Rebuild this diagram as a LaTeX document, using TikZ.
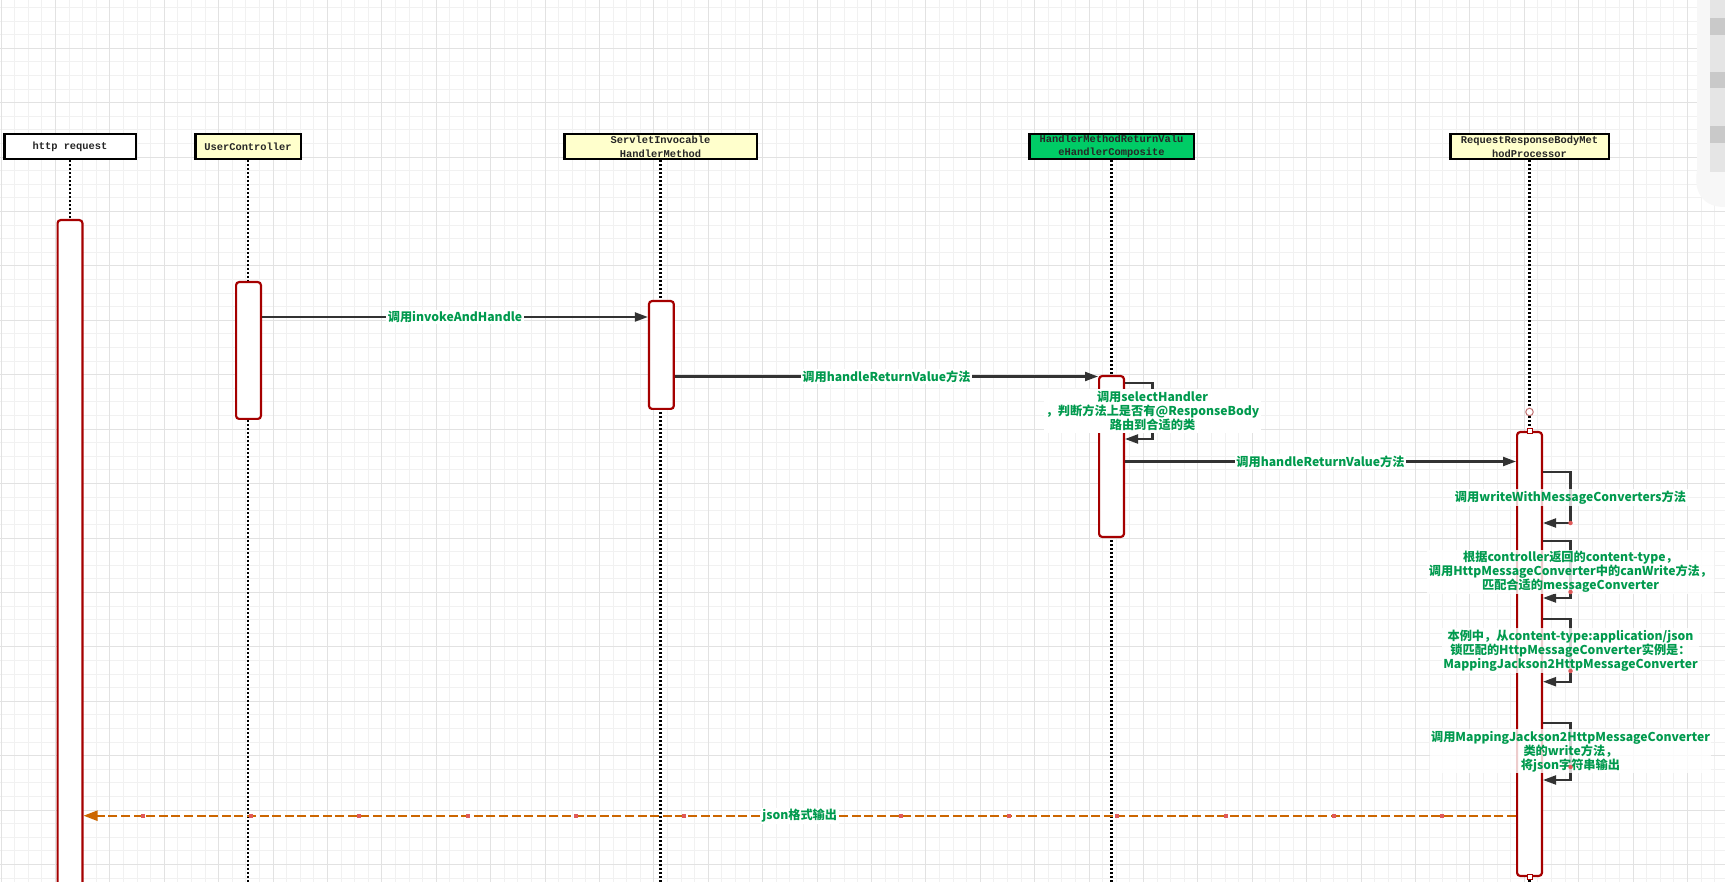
\documentclass[tikz,border=0pt]{standalone}
\usepackage{fontspec}
\usetikzlibrary{arrows.meta}
\newfontfamily\cjk{Noto Sans CJK SC}
\newfontfamily\monob{Liberation Mono}
\definecolor{minorgrid}{HTML}{F1F1F1}
\definecolor{majorgrid}{HTML}{E2E2E2}
\definecolor{headtext}{HTML}{262626}
\definecolor{headyellow}{HTML}{FFFFCC}
\definecolor{headgreen}{HTML}{00CC66}
\definecolor{actred}{HTML}{A50000}
\definecolor{msggray}{HTML}{333333}
\definecolor{retorange}{HTML}{CC6600}
\definecolor{lblgreen}{HTML}{009A4E}
\definecolor{dotred}{HTML}{E05A5A}
\definecolor{circred}{HTML}{C07070}
\begin{document}
\begin{tikzpicture}[x=1pt,y=-1pt,
  head/.style={draw=black, line width=2.5pt, minimum height=25pt, inner sep=1pt,
    font=\monob\bfseries\fontsize{10.4}{13.6}\selectfont, text=headtext, align=center},
  act/.style={draw=actred, line width=2.2pt, fill=white, rounded corners=3pt,
    minimum width=24.8pt, inner sep=0pt, anchor=north},
  life/.style={line width=2.2pt, dash pattern=on 2pt off 2pt, black},
  msg/.style={draw=msggray, line width=2.1pt, -{Triangle[length=13pt,width=9pt]}},
  retmsg/.style={draw=retorange, line width=2.2pt, dash pattern=on 9pt off 3.6pt,
    -{Triangle[length=14pt,width=10pt]}},
  lbl/.style={font=\cjk\bfseries\fontsize{12.2}{14}\selectfont, text=lblgreen,
    fill=white, inner sep=1.5pt, align=center},
  lblp/.style={lbl, fill opacity=0.8, text opacity=1},
  reddot/.style={circle, fill=dotred, inner sep=0pt, minimum size=4.5pt},
  tinysq/.style={draw=actred, fill=white, line width=1pt, minimum size=5pt, inner sep=0pt},
]
\useasboundingbox (0,0) rectangle (1725,882);
\clip (0,0) rectangle (1725,882);
\fill[white] (0,0) rectangle (1725,882);
% grid
\foreach \k in {0,...,127} {
  \pgfmathsetmacro\xx{1+13.6*\k}
  \draw[minorgrid, line width=1pt] (\xx,0) -- (\xx,882);
}
\foreach \j in {-59,...,5} {
  \pgfmathsetmacro\yy{810+13.6*\j}
  \draw[minorgrid, line width=1pt] (0,\yy) -- (1725,\yy);
}
\foreach \k in {0,...,31} {
  \pgfmathsetmacro\xx{1+54.4*\k}
  \draw[majorgrid, line width=1pt] (\xx,0) -- (\xx,882);
}
\foreach \j in {-14,...,1} {
  \pgfmathsetmacro\yy{810+54.4*\j}
  \draw[majorgrid, line width=1pt] (0,\yy) -- (1725,\yy);
}
% right edge artifact
\fill[white!97!black] (1697,0) -- (1697,170) .. controls (1693,195) and (1705,207) .. (1725,207) -- (1725,0) -- cycle;
\fill[black!10] (1710,0) rectangle (1725,172);
\fill[black!21] (1710,18) rectangle (1725,35);
\fill[black!21] (1710,72) rectangle (1725,88);
\fill[black!21] (1710,126) rectangle (1725,143);

% heads
\node[head, fill=white, minimum width=131.5pt] (h1) at (70,146.5) {http request};
\node[head, fill=headyellow, minimum width=105.5pt] (h2) at (248,146.5) {UserController};
\node[head, fill=headyellow, minimum width=192.5pt] (h3) at (660.5,146.5) {ServletInvocable\\HandlerMethod};
\node[head, fill=headgreen, minimum width=164.5pt] (h4) at (1111.5,146.5) {HandlerMethodReturnValu\\eHandlerComposite};
\node[head, fill=headyellow, minimum width=158.5pt] (h5) at (1529.5,146.5) {RequestResponseBodyMet\\hodProcessor};

% lifelines
\node[circle, draw=circred, fill=white, line width=1pt, minimum size=7.5pt, inner sep=0pt] (pc) at (1529.5,412) {};
\draw[life] (h1.south) -- (h1.south |- 0,882);
\draw[life] (h2.south) -- (h2.south |- 0,882);
\draw[life] (h3.south) -- (h3.south |- 0,882);
\draw[life] (h4.south) -- (h4.south |- 0,882);
\draw[life] (h5.south) -- (pc.north);
\draw[life] (pc.south) -- (pc.south |- 0,882);

% activations
\node[act, minimum height=700pt] (hA) at (70,219) {};
\node[act, minimum height=136.8pt] (uA) at (248.5,281) {};
\node[act, minimum height=107.8pt] (sA) at (661.4,300) {};
\node[act, minimum height=160.8pt] (cA) at (1111.5,375) {};
\node[act, minimum height=443.8pt] (pA) at (1529.5,431) {};
\node[tinysq] (pAt) at (pA.north) {};
\node[tinysq] (pAb) at (pA.south) {};

% messages
\coordinate (y1) at (0,317);
\draw[msg] (uA.east |- y1) -- node[lbl]{调用invokeAndHandle} (sA.west |- y1);
\coordinate (y2) at (0,376.5);
\draw[msg] (sA.east |- y2) -- node[lbl]{调用handleReturnValue方法} (cA.west |- y2);
\coordinate (c1) at (1152.5,383);
\coordinate (c2) at (1152.5,439);
\draw[msg] (cA.east |- c1) -- (c1) -- node[lbl, inner sep=2pt]{调用selectHandler\\，判断方法上是否有@ResponseBody\\路由到合适的类} (c2) -- (cA.east |- c2);
\coordinate (y3) at (0,461.5);
\draw[msg] (cA.east |- y3) -- node[lbl]{调用handleReturnValue方法} (pA.west |- y3);

% processor self calls
\coordinate (p1t) at (1570.5,471.7);
\coordinate (p1b) at (1570.5,523);
\draw[msg] (pA.east |- p1t) -- (p1t) -- node[lblp]{调用writeWithMessageConverters方法} (p1b) -- (pA.east |- p1b);
\node[reddot] (d1) at (p1b) {};

\coordinate (p2t) at (1570.5,540.7);
\coordinate (p2b) at (1570.5,598);
\draw[msg] (pA.east |- p2t) -- (p2t) -- node[lblp, pos=0.55]{根据controller返回的content-type，\\调用HttpMessageConverter中的canWrite方法，\\匹配合适的messageConverter} (p2b) -- (pA.east |- p2b);
\node[reddot] (d2) at (1570.5,592) {};

\coordinate (p3t) at (1570.5,619);
\coordinate (p3b) at (1570.5,681.7);
\draw[msg] (pA.east |- p3t) -- (p3t) -- node[lblp]{本例中，从content-type:application/json\\锁匹配的HttpMessageConverter实例是：\\MappingJackson2HttpMessageConverter} (p3b) -- (pA.east |- p3b);
\node[reddot] (d3) at (1570.5,671) {};

\coordinate (p4t) at (1570.5,722.7);
\coordinate (p4b) at (1570.5,780);
\draw[msg] (pA.east |- p4t) -- (p4t) -- node[lblp]{调用MappingJackson2HttpMessageConverter\\类的write方法，\\将json字符串输出} (p4b) -- (pA.east |- p4b);
\node[reddot] (d4) at (1570.5,767) {};

% return
\coordinate (y6) at (0,815.7);
\draw[retmsg] (pA.west |- y6) -- node[lbl]{json格式输出} (hA.east |- y6);
\foreach \i in {0,...,5,7,8,9,10,11,12} {
  \pgfmathsetmacro\xx{142.7+108.3*\i}
  \fill[dotred] (\xx-2,813.7) rectangle (\xx+2,817.7);
}
\end{tikzpicture}
\end{document}
